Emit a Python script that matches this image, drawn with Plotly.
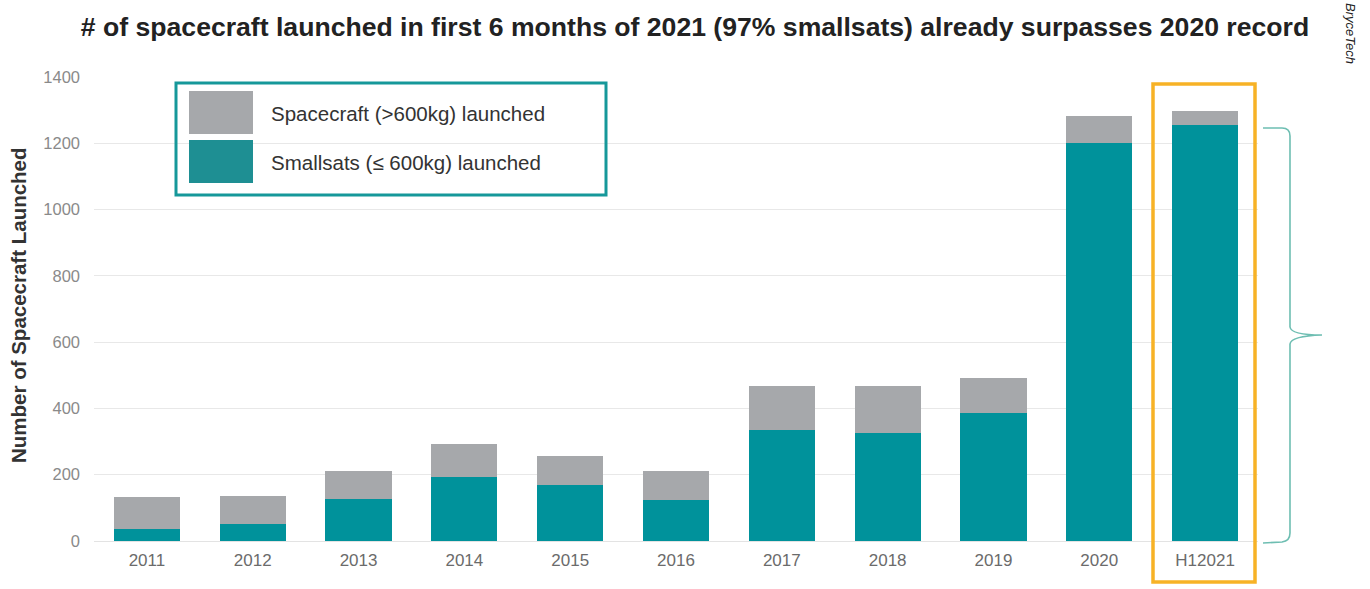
import plotly.graph_objects as go

# Launch counts per year (H12021 = first half of 2021)
years = ["2011", "2012", "2013", "2014", "2015", "2016", "2017", "2018", "2019", "2020", "H12021"]
smallsats = [35, 50, 127, 192, 169, 123, 335, 325, 387, 1200, 1254]
large_spacecraft = [97, 86, 84, 101, 88, 88, 133, 143, 104, 82, 44]
y_ticks = [0, 200, 400, 600, 800, 1000, 1200, 1400]

TEAL = "rgb(0,146,155)"
GRAY = "rgb(166,168,171)"
TEAL_SWATCH = "rgb(30,143,147)"
BOX_TEAL = "rgb(22,152,154)"
GOLD = "rgb(247,178,38)"
BRACE = "rgb(110,190,178)"
FONT = "Liberation Sans, Arial"

W, H = 1370, 589
ML, MR, MT, MB = 94, 112, 77, 48
PW, PH = W - ML - MR, H - MT - MB


def px(xp):
    return (xp - ML) / PW


def py(yp):
    return (H - MB - yp) / PH


fig = go.Figure()
fig.add_trace(go.Bar(x=years, y=smallsats, name="Smallsats (≤ 600kg) launched",
                     marker=dict(color=TEAL, line=dict(width=0))))
fig.add_trace(go.Bar(x=years, y=large_spacecraft, name="Spacecraft (>600kg) launched",
                     marker=dict(color=GRAY, line=dict(width=0))))

shapes = []
# legend frame and swatches
shapes.append(dict(type="rect", xref="paper", yref="paper",
                   x0=px(176), x1=px(606), y0=py(195), y1=py(83),
                   line=dict(color=BOX_TEAL, width=3), fillcolor="rgba(0,0,0,0)"))
shapes.append(dict(type="rect", xref="paper", yref="paper",
                   x0=px(189), x1=px(253), y0=py(134), y1=py(91),
                   line=dict(width=0), fillcolor=GRAY))
shapes.append(dict(type="rect", xref="paper", yref="paper",
                   x0=px(189), x1=px(253), y0=py(183), y1=py(140),
                   line=dict(width=0), fillcolor=TEAL_SWATCH))
# highlight around the H1 2021 column
shapes.append(dict(type="rect", xref="paper", yref="paper",
                   x0=px(1153), x1=px(1255), y0=py(582), y1=py(84),
                   line=dict(color=GOLD, width=3.5), fillcolor="rgba(0,0,0,0)", layer="above"))

# curly brace to the right of the highlighted column
pts = [
    ("M", [(1263, 128)]),
    ("L", [(1282, 128)]),
    ("Q", [(1290, 128), (1290, 136)]),
    ("L", [(1290, 327)]),
    ("Q", [(1291, 335), (1322, 335)]),
    ("Q", [(1291, 336), (1290, 344)]),
    ("L", [(1290, 533)]),
    ("Q", [(1290, 541), (1282, 542)]),
    ("L", [(1263, 543)]),
]
path = " ".join(cmd + " " + " ".join(f"{px(a):.5f},{py(b):.5f}" for a, b in p) for cmd, p in pts)
shapes.append(dict(type="path", xref="paper", yref="paper", path=path,
                   line=dict(color=BRACE, width=1.6)))

annotations = [
    dict(text="Spacecraft (>600kg) launched", xref="paper", yref="paper",
         x=px(269), y=py(113), xanchor="left", yanchor="middle", showarrow=False,
         font=dict(family=FONT, size=20.5, color="#333333")),
    dict(text="Smallsats (≤ 600kg) launched", xref="paper", yref="paper",
         x=px(269), y=py(163), xanchor="left", yanchor="middle", showarrow=False,
         font=dict(family=FONT, size=20.5, color="#333333")),
    dict(text="<b>Number of Spacecraft Launched</b>", xref="paper", yref="paper",
         x=px(18), y=py(305), xanchor="center", yanchor="middle", textangle=-90,
         showarrow=False, font=dict(family=FONT, size=20.5, color="#333333")),
    dict(text="<i>BryceTech</i>", xref="paper", yref="paper",
         x=px(1350), y=py(33), xanchor="center", yanchor="middle", textangle=90,
         showarrow=False, font=dict(family=FONT, size=13, color="#222222")),
]

fig.update_layout(
    width=W, height=H,
    margin=dict(l=ML, r=MR, t=MT, b=MB, autoexpand=False),
    paper_bgcolor="white", plot_bgcolor="white",
    barmode="stack", bargap=0.375, showlegend=False,
    title=dict(text="<b># of spacecraft launched in first 6 months of 2021 (97% smallsats) already surpasses 2020 record</b>",
               x=695 / W, xanchor="center", y=1 - 27 / H, yanchor="middle",
               font=dict(family=FONT, size=26.6, color="#222222")),
    xaxis=dict(type="category", showgrid=False, zeroline=False, showline=False, ticks="",
               tickfont=dict(family=FONT, size=17, color="#6b6b6b"),
               ticklabelstandoff=7),
    yaxis=dict(range=[0, 1400], tickvals=y_ticks, showgrid=True, gridcolor="#e8e8e8", gridwidth=1,
               zeroline=True, zerolinecolor="#e3e3e3", zerolinewidth=1, showline=False, ticks="",
               tickfont=dict(family=FONT, size=16.5, color="#8a8a8a"),
               ticklabelstandoff=13),
    shapes=shapes, annotations=annotations,
)

fig.write_html("out.html")
